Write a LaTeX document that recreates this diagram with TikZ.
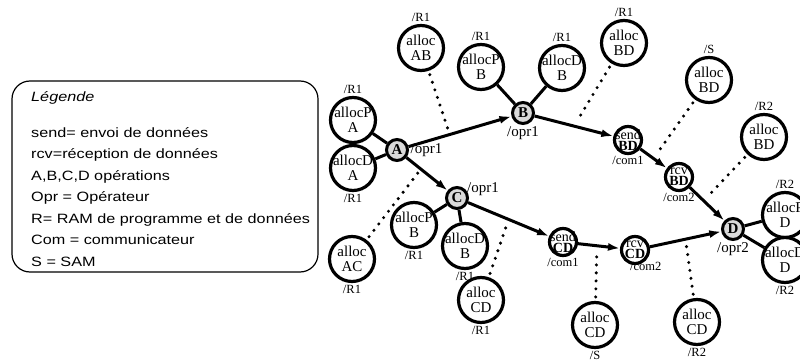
\documentclass[tikz,border=0pt]{standalone}
\usepackage{fontspec}
\setmainfont{Liberation Serif}
\newfontfamily\legfont{Liberation Sans}
\usetikzlibrary{arrows.meta,positioning}

\tikzset{
  opr/.style={circle, draw, line width=3pt, fill=black!15, minimum size=21pt, inner sep=0pt, font=\fontsize{15}{15}\selectfont\bfseries},
  com/.style={circle, draw, line width=3.2pt, fill=white, minimum size=27pt, inner sep=-5pt, align=center, font=\fontsize{14}{10.8}\selectfont},
  alloc/.style={circle, draw, line width=3.2pt, fill=white, minimum size=45pt, inner sep=-3pt, align=center, font=\fontsize{15}{14.5}\selectfont},
  lbl/.style={inner sep=2pt, font=\fontsize{12.5}{12.5}\selectfont},
  oprlbl/.style={inner sep=1.5pt, font=\fontsize{15}{15}\selectfont},
  legtext/.style={inner sep=0pt, xscale=1.2, font=\legfont\fontsize{13.5}{21.5}\selectfont},
  flow/.style={line width=3pt, -{Latex[length=12pt,width=8pt]}},
  link/.style={line width=3pt},
  alloclink/.style={line width=3.4pt, line cap=round, dash pattern=on 0pt off 8pt, shorten <=4pt, shorten >=5pt},
}

\begin{document}
\begin{tikzpicture}[x=1pt, y=-1pt]
\useasboundingbox (0,0) rectangle (800,363);

% legend
\draw[line width=1.2pt, rounded corners=18pt] (12,81) rectangle (318,272);
\node (legTitle) [legtext, anchor=base west, font={\legfont\itshape\fontsize{13.5}{16}\selectfont}] at (31,101.7) {Légende};
\node (legBody) [legtext, anchor=north west, align=left] at (31,127)
  {send= envoi de données\\rcv=réception de données\\A,B,C,D opérations\\Opr = Opérateur\\R= RAM de programme et de données\\Com = communicateur\\S = SAM};

% operations
\node (A) [opr] at (397,150) {A};
\node (B) [opr] at (523,113) {B};
\node (C) [opr] at (457,198) {C};
\node (D) [opr] at (733,229) {D};

% communications
\node (sendBD) [com] at (628,140) {send\\\textbf{BD}};
\node (rcvBD) [com] at (679,177) {rcv\\\textbf{BD}};
\node (sendCD) [com] at (563,242) {send\\\textbf{CD}};
\node (rcvCD) [com] at (635,250) {rcv\\\textbf{CD}};

% allocations
\node (allocAB) [alloc] at (421,48) {alloc\\AB};
\node (allocPA) [alloc] at (353,120) {allocP\\A};
\node (allocDA) [alloc] at (353,168) {allocD\\A};
\node (allocPB) [alloc] at (481,67) {allocP\\B};
\node (allocDB) [alloc] at (562,68) {allocD\\B};
\node (allocBDa) [alloc] at (624,43) {alloc\\BD};
\node (allocBDb) [alloc] at (709,80) {alloc\\BD};
\node (allocBDc) [alloc] at (764,137) {alloc\\BD};
\node (allocPD) [alloc] at (785,215) {allocP\\D};
\node (allocDD) [alloc] at (785,260) {allocD\\D};
\node (allocPBc) [alloc] at (414,225) {allocP\\B};
\node (allocDBc) [alloc] at (465,246) {allocD\\B};
\node (allocAC) [alloc] at (352,259) {alloc\\AC};
\node (allocCDa) [alloc] at (481,300) {alloc\\CD};
\node (allocCDb) [alloc] at (595,325) {alloc\\CD};
\node (allocCDc) [alloc] at (697,322) {alloc\\CD};

% labels
\node (lA) [oprlbl, right] at (A.east) {/opr1};
\node (lB) [oprlbl, below] at (B.south) {/opr1};
\node (lC) [oprlbl, right] at (C.north east) {/opr1};
\node (lD) [oprlbl, below] at (D.south) {/opr2};
\node (lsendBD) [lbl, below, inner sep=1pt] at (sendBD.south) {/com1};
\node (lrcvBD) [lbl, below, inner sep=1pt] at (rcvBD.south) {/com2};
\node (lsendCD) [lbl, below, inner sep=1pt] at (sendCD.south) {/com1};
\node (lrcvCD) [lbl, below, inner sep=1pt] at (rcvCD.south east) {/com2};
\node (lallocAB) [lbl, above] at (allocAB.north) {/R1};
\node (lallocPA) [lbl, above] at (allocPA.north) {/R1};
\node (lallocDA) [lbl, below] at (allocDA.south) {/R1};
\node (lallocPB) [lbl, above] at (allocPB.north) {/R1};
\node (lallocDB) [lbl, above] at (allocDB.north) {/R1};
\node (lallocBDa) [lbl, above] at (allocBDa.north) {/R1};
\node (lallocBDb) [lbl, above] at (allocBDb.north) {/S};
\node (lallocBDc) [lbl, above] at (allocBDc.north) {/R2};
\node (lallocPD) [lbl, above] at (allocPD.north) {/R2};
\node (lallocDD) [lbl, below] at (allocDD.south) {/R2};
\node (lallocPBc) [lbl, below] at (allocPBc.south) {/R1};
\node (lallocDBc) [lbl, below] at (allocDBc.south) {/R1};
\node (lallocAC) [lbl, below] at (allocAC.south) {/R1};
\node (lallocCDa) [lbl, below] at (allocCDa.south) {/R1};
\node (lallocCDb) [lbl, below] at (allocCDb.south) {/S};
\node (lallocCDc) [lbl, below] at (allocCDc.south) {/R2};

% data flow
\draw[flow] (A) -- coordinate[pos=0.4] (mAB) (B);
\draw[flow] (A) -- coordinate[pos=0.35] (mAC) (C);
\draw[flow] (B) -- coordinate[pos=0.5] (mBs) (sendBD);
\draw[flow] (sendBD) -- coordinate[pos=0.5] (mBD) (rcvBD);
\draw[flow] (rcvBD) -- coordinate[pos=0.4] (mBr) (D);
\draw[flow] (C) -- coordinate[pos=0.5] (mCs) (sendCD);
\draw[flow] (sendCD) -- coordinate[pos=0.45] (mCD) (rcvCD);
\draw[flow] (rcvCD) -- coordinate[pos=0.5] (mCr) (D);

% operation allocations
\draw[link] (allocPA) -- (A);
\draw[link] (allocDA) -- (A);
\draw[link] (allocPB) -- (B);
\draw[link] (allocDB) -- (B);
\draw[link] (allocPBc) -- (C);
\draw[link] (allocDBc) -- (C);
\draw[link] (allocPD) -- (D);
\draw[link] (allocDD) -- (D);

% data allocations
\draw[alloclink] (allocAB) -- (mAB);
\draw[alloclink] (allocAC) -- (mAC);
\draw[alloclink] (allocBDa) -- (mBs);
\draw[alloclink, shorten >=8pt] (allocBDb) -- (mBD);
\draw[alloclink] (allocBDc) -- (mBr);
\draw[alloclink] (allocCDa) -- (mCs);
\draw[alloclink] (allocCDb) -- (mCD);
\draw[alloclink] (allocCDc) -- (mCr);

\end{tikzpicture}
\end{document}
